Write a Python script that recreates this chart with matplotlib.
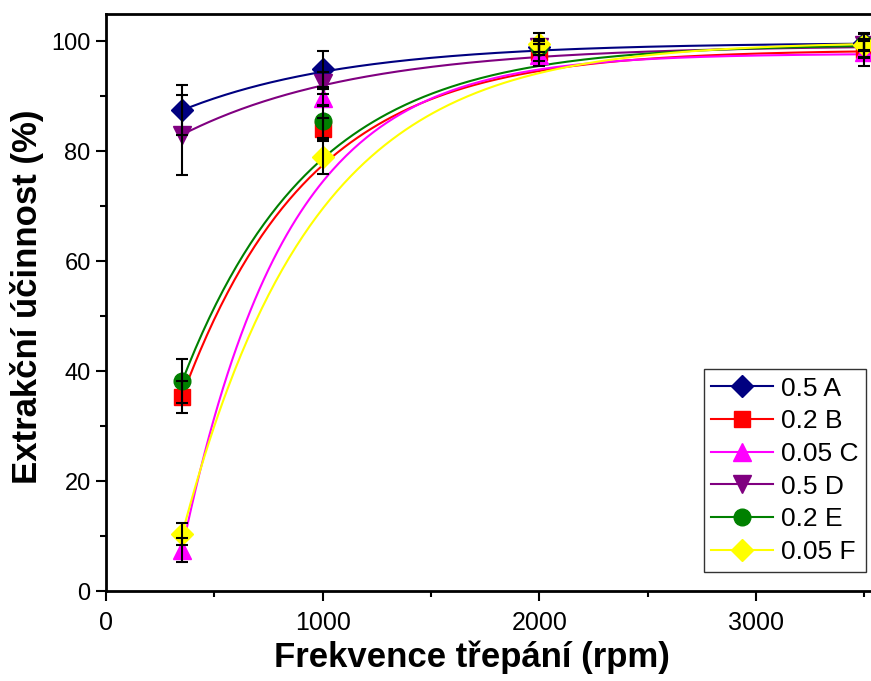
import numpy as np
import matplotlib.pyplot as plt

plt.rcParams['font.family'] = ['Liberation Sans', 'DejaVu Sans']

# frekvence trepani (rpm)
x = [350, 1000, 2000, 3500]

labels = ['0.5 A', '0.2 B', '0.05 C', '0.5 D', '0.2 E', '0.05 F']
colors = ['#000080', '#ff0000', '#ff00ff', '#800080', '#008000', '#ffff00']
markers = ['D', 's', '^', 'v', 'o', 'D']
msizes = [11, 11, 13, 13, 12, 11]

# extrakcni ucinnost (%)
y_A = [87.5, 95.0, 99.0, 99.8]
y_B = [35.3, 84.0, 98.0, 98.5]
y_C = [7.5, 89.8, 97.5, 98.0]
y_D = [83.0, 92.5, 99.0, 99.3]
y_E = [38.2, 85.5, 99.0, 99.5]
y_F = [10.4, 78.9, 99.5, 99.3]

err_A = [4.5, 3.2, 1.0, 1.5]
err_B = [2.9, 2.0, 1.5, 1.5]
err_C = [2.2, 1.5, 2.0, 2.5]
err_D = [7.3, 2.0, 1.0, 1.0]
err_E = [4.0, 3.0, 1.5, 1.0]
err_F = [2.0, 3.0, 2.0, 2.2]

# fitovane krivky y = A - B*exp(-x/t), parametry
fit_A = (99.8, 19.4, 772)
fit_B = (98.5, 114.4, 590)
fit_C = (97.8, 188.0, 479)
fit_D = (99.3, 25.1, 809)
fit_E = (99.5, 110.2, 600)
fit_F = (100.0, 161.0, 600)

ys = [y_A, y_B, y_C, y_D, y_E, y_F]
errs = [err_A, err_B, err_C, err_D, err_E, err_F]
fits = [fit_A, fit_B, fit_C, fit_D, fit_E, fit_F]

fig = plt.figure(figsize=(8.71, 6.81), dpi=100)
ax = fig.add_axes([106/871, 1-591/681, 1-106/871, (591-14)/681])

xx = np.linspace(x[0], x[-1], 300)
for i in range(6):
    a, b, t = fits[i]
    ax.plot(xx, a - b*np.exp(-xx/t), color=colors[i], lw=1.5, zorder=2)
for i in range(6):
    ax.plot(x, ys[i], linestyle='none', marker=markers[i], ms=msizes[i],
            color=colors[i], mec=colors[i], zorder=3)
    ax.errorbar(x, ys[i], yerr=errs[i], fmt='none', ecolor='black',
                elinewidth=1.5, capsize=4.5, capthick=1.5, zorder=4)

# legenda
handles = [plt.Line2D([], [], color=colors[i], marker=markers[i], ms=msizes[i],
                      lw=1.5, mec=colors[i]) for i in range(6)]
leg = ax.legend(handles, labels, loc='lower right', fontsize=19, frameon=True,
                fancybox=False, edgecolor='black', handlelength=2.35,
                borderpad=0.3, labelspacing=0.33, handletextpad=0.27,
                borderaxespad=0.0, bbox_to_anchor=(0.9935, 0.033))
leg.get_frame().set_linewidth(1.0)

ax.set_xlim(0, 3530)
ax.set_ylim(0, 105)
ax.set_xticks([0, 1000, 2000, 3000])
ax.set_xticks([500, 1500, 2500, 3500], minor=True)
ax.set_yticks([0, 20, 40, 60, 80, 100])
ax.set_yticks([10, 30, 50, 70, 90], minor=True)
ax.tick_params(axis='both', which='major', labelsize=17, length=7.5, width=1.5, direction='out')
ax.tick_params(axis='x', which='major', labelsize=18, pad=7)
ax.tick_params(axis='both', which='minor', length=4.5, width=1.5, direction='out')
for s in ['left', 'bottom', 'top']:
    ax.spines[s].set_linewidth(2)
ax.spines['right'].set_visible(False)

ax.set_xlabel('Frekvence třepání (rpm)', fontsize=25, fontweight='bold')
ax.set_ylabel('Extrakční účinnost (%)', fontsize=25, fontweight='bold')
ax.xaxis.set_label_coords(0.478, -0.085)
ax.yaxis.set_label_coords(-0.081, 0.51)

fig.savefig('out.png', dpi=100)
